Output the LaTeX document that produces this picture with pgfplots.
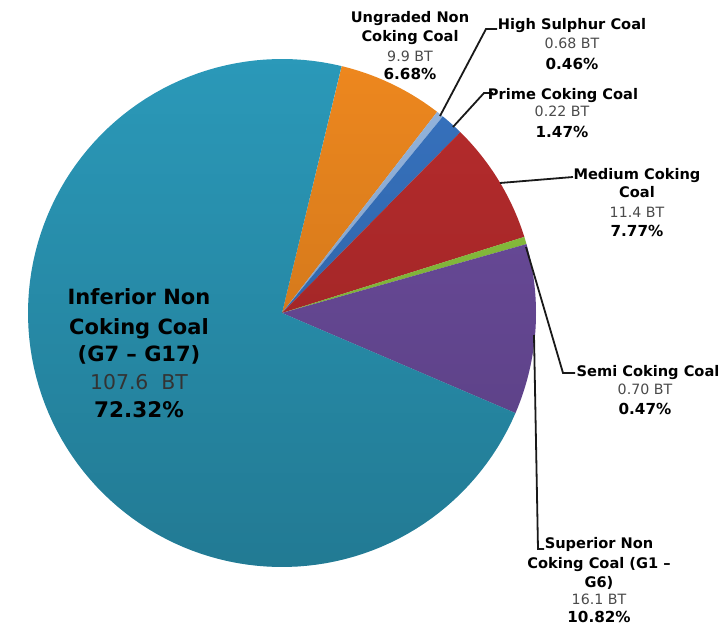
\documentclass[border=0pt]{standalone}
\usepackage{pgfplots}
\pgfplotsset{compat=1.18}
\usepackage{pgfplotstable}
\usetikzlibrary{fadings}
\usepackage{fontspec}
\setmainfont{DejaVu Sans}

\definecolor{cTeal}{HTML}{2B99B9}
\definecolor{cOrange}{HTML}{EE881F}
\definecolor{cLBlue}{HTML}{95B6E0}
\definecolor{cBlue}{HTML}{3773C0}
\definecolor{cRed}{HTML}{B82C2D}
\definecolor{cGreen}{HTML}{8DC63F}
\definecolor{cPurple}{HTML}{6E4EA0}
\definecolor{cGrayTxt}{HTML}{4A4A4A}

% share (%) of each slice, clockwise from the top
\pgfplotstableread{
pct col
6.68 cOrange
0.46 cLBlue
1.47 cBlue
7.77 cRed
0.47 cGreen
10.82 cPurple
72.32 cTeal
}\piedata

% label helpers: x centre, baseline (px from top)
\newcommand\bl[3]{\node[anchor=base,inner sep=0pt,font=\fontsize{14.6}{16}\selectfont\bfseries] at (axis cs:#1,630-#2) {#3};}
\newcommand\vl[3]{\node[anchor=base,inner sep=0pt,text=cGrayTxt,font=\fontsize{14.2}{16}\selectfont] at (axis cs:#1,630-#2) {#3};}
\newcommand\pl[3]{\node[anchor=base,inner sep=0pt,font=\fontsize{15.2}{16}\selectfont\bfseries] at (axis cs:#1,630-#2) {#3};}

\begin{document}
\begin{tikzpicture}
\begin{axis}[
  scale only axis, width=726pt, height=630pt,
  xmin=0, xmax=726, ymin=0, ymax=630,
  hide axis, clip=false,
]
\addplot[draw=none] coordinates {(0,0) (726,630)};

\xdef\cur{76.4}
\pgfplotsforeachungrouped \i in {0,...,6}{
  \pgfplotstablegetelem{\i}{pct}\of\piedata \let\p\pgfplotsretval
  \pgfplotstablegetelem{\i}{col}\of\piedata \let\c\pgfplotsretval
  \pgfmathsetmacro\nxt{\cur-3.6*\p}
  \edef\doplot{\noexpand\addplot[fill=\c, draw=none, domain=\nxt:\cur, samples=120] ({282+254*cos(x)},{317+254*sin(x)}) -- (282,317) -- cycle;}
  \doplot
  \xdef\cur{\nxt}
}
% vertical darkening of the pie (light top, darker bottom)
\addplot[draw=none, fill=black, fill opacity=0.2, path fading=north, domain=0:360, samples=180] ({282+254*cos(x)},{317+254*sin(x)}) -- cycle;

% leader lines
\addplot[line width=1.8pt, color=black!90] coordinates {(440,630-116) (486,630-29) (497,630-29)};
\addplot[line width=1.8pt, color=black!90] coordinates {(453,630-127) (484,630-93) (493,630-93)};
\addplot[line width=1.8pt, color=black!90] coordinates {(500,630-183) (573,630-177)};
\addplot[line width=1.8pt, color=black!90] coordinates {(526,630-247) (563,630-373) (575,630-373)};
\addplot[line width=1.8pt, color=black!90] coordinates {(534,630-335) (538,630-549) (544,630-549)};

% labels
\bl{410}{23}{Ungraded Non}
\bl{410}{42}{Coking Coal}
\vl{410}{62}{9.9 BT}
\pl{410}{80}{6.68\%}

\bl{572}{30}{High Sulphur Coal}
\vl{572}{49}{0.68 BT}
\pl{572}{70}{0.46\%}

\bl{563}{100}{Prime Coking Coal}
\vl{562}{117}{0.22 BT}
\pl{562}{138}{1.47\%}

\bl{637}{180}{Medium Coking}
\bl{637}{198}{Coal}
\vl{637}{218}{11.4 BT}
\pl{637}{237}{7.77\%}

\bl{648}{377}{Semi Coking Coal}
\vl{645}{395}{0.70 BT}
\pl{645}{415}{0.47\%}

\bl{599}{548}{Superior Non}
\bl{599}{568}{Coking Coal (G1 –}
\bl{599}{587}{G6)}
\vl{599}{604}{16.1 BT}
\pl{599}{622}{10.82\%}

\node[anchor=base,inner sep=0pt,font=\fontsize{21}{24}\selectfont\bfseries] at (axis cs:139,630-305) {Inferior Non};
\node[anchor=base,inner sep=0pt,font=\fontsize{21}{24}\selectfont\bfseries] at (axis cs:139,630-335) {Coking Coal};
\node[anchor=base,inner sep=0pt,font=\fontsize{21}{24}\selectfont\bfseries] at (axis cs:139,630-362) {(G7 – G17)};
\node[anchor=base,inner sep=0pt,text=black!80,font=\fontsize{20.4}{24}\selectfont] at (axis cs:139,630-390) {107.6\ \ BT};
\node[anchor=base,inner sep=0pt,font=\fontsize{21.5}{24}\selectfont\bfseries] at (axis cs:139,630-418) {72.32\%};
\end{axis}
\end{tikzpicture}
\end{document}
